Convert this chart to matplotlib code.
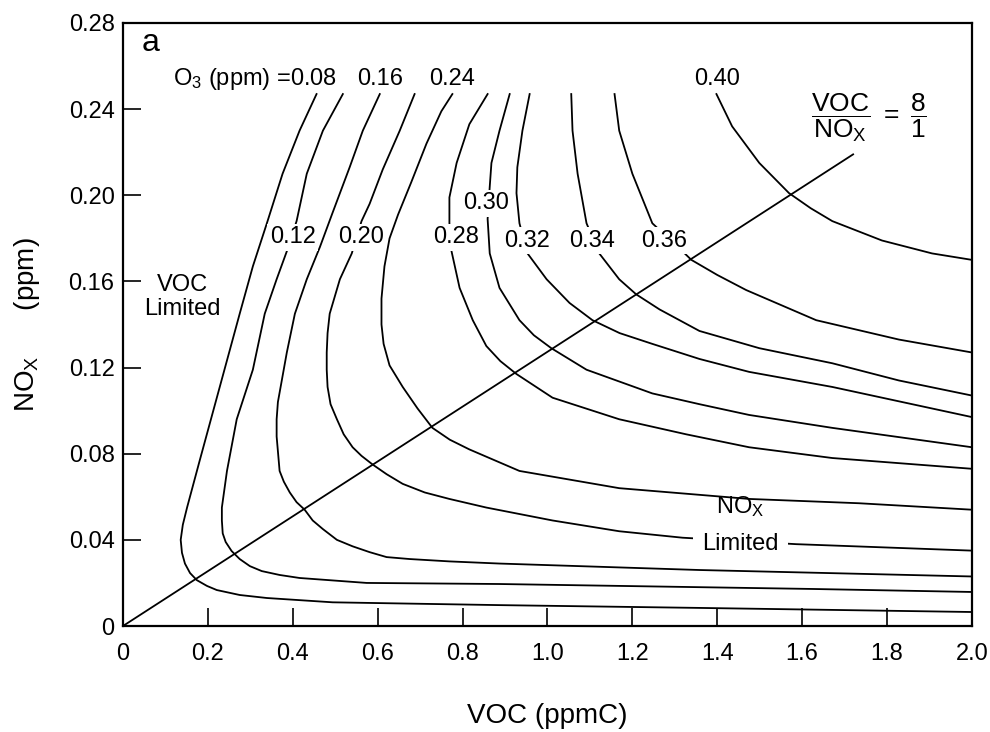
import matplotlib

matplotlib.use("Agg")
import matplotlib.pyplot as plt

plt.rcParams["font.family"] = ["Liberation Sans", "DejaVu Sans"]
plt.rcParams["mathtext.fontset"] = "custom"
plt.rcParams["mathtext.rm"] = "Liberation Sans"
plt.rcParams["mathtext.it"] = "Liberation Sans:italic"
plt.rcParams["mathtext.bf"] = "Liberation Sans:bold"

# O3 isopleths: VOC (ppmC) on x, NOx (ppm) on y
voc_008 = [0.456, 0.416, 0.376, 0.339, 0.306, 0.275, 0.228, 0.181, 0.151, 0.141,
           0.136, 0.139, 0.146, 0.158, 0.174, 0.198, 0.221, 0.275, 0.339, 0.494,
           0.887, 1.358, 2.0]
nox_008 = [0.247, 0.230, 0.210, 0.187, 0.167, 0.145, 0.111, 0.077, 0.055, 0.047,
           0.040, 0.034, 0.029, 0.0246, 0.0213, 0.0186, 0.0167, 0.0144, 0.013, 0.011,
           0.0097, 0.0084, 0.0065]

voc_012 = [0.518, 0.471, 0.433, 0.409, 0.386, 0.362, 0.334, 0.306, 0.268, 0.245,
           0.233, 0.233, 0.235, 0.242, 0.256, 0.275, 0.299, 0.327, 0.369, 0.416,
           0.574, 0.887, 1.624, 2.0]
nox_012 = [0.247, 0.230, 0.210, 0.188, 0.174, 0.161, 0.145, 0.119, 0.096, 0.072,
           0.055, 0.049, 0.043, 0.039, 0.0348, 0.0311, 0.0278, 0.0255, 0.0237, 0.0223,
           0.020, 0.0195, 0.0172, 0.0158]

voc_016 = [0.605, 0.565, 0.534, 0.494, 0.464, 0.433, 0.405, 0.386, 0.365, 0.362,
           0.362, 0.369, 0.379, 0.393, 0.409, 0.428, 0.447, 0.471, 0.504, 0.541,
           0.581, 0.621, 0.675, 0.769, 0.887, 1.358, 2.0]
nox_016 = [0.247, 0.230, 0.213, 0.192, 0.176, 0.161, 0.145, 0.127, 0.104, 0.096,
           0.088, 0.072, 0.067, 0.062, 0.0575, 0.054, 0.049, 0.045, 0.040, 0.037,
           0.0343, 0.032, 0.0311, 0.030, 0.029, 0.026, 0.023]

voc_020 = [0.687, 0.652, 0.612, 0.581, 0.562, 0.539, 0.511, 0.487, 0.482, 0.480,
           0.480, 0.482, 0.489, 0.504, 0.520, 0.541, 0.562, 0.588, 0.621, 0.659,
           0.711, 0.769, 0.856, 1.012, 1.169, 1.318, 1.586, 2.0]
nox_020 = [0.247, 0.230, 0.212, 0.196, 0.188, 0.173, 0.161, 0.145, 0.136, 0.127,
           0.119, 0.111, 0.103, 0.096, 0.089, 0.083, 0.079, 0.075, 0.0705, 0.066,
           0.062, 0.059, 0.055, 0.049, 0.044, 0.041, 0.038, 0.035]

voc_024 = [0.776, 0.750, 0.715, 0.679, 0.648, 0.628, 0.616, 0.609, 0.609, 0.614,
           0.628, 0.659, 0.694, 0.729, 0.770, 0.816, 0.934, 1.169, 1.475, 1.734, 2.0]
nox_024 = [0.247, 0.239, 0.224, 0.206, 0.191, 0.180, 0.167, 0.152, 0.140, 0.131,
           0.121, 0.111, 0.101, 0.092, 0.0865, 0.082, 0.072, 0.064, 0.059, 0.057, 0.054]

voc_028 = [0.859, 0.816, 0.786, 0.769, 0.769, 0.774, 0.793, 0.824, 0.856, 0.889,
           0.927, 1.012, 1.169, 1.327, 1.475, 1.671, 2.0]
nox_028 = [0.247, 0.233, 0.215, 0.199, 0.187, 0.174, 0.157, 0.142, 0.130, 0.123,
           0.117, 0.106, 0.096, 0.089, 0.083, 0.078, 0.073]

voc_030 = [0.911, 0.887, 0.868, 0.864, 0.859, 0.864, 0.887, 0.934, 0.968, 1.009,
           1.092, 1.247, 1.358, 1.475, 1.671, 2.0]
nox_030 = [0.247, 0.230, 0.215, 0.204, 0.189, 0.173, 0.157, 0.142, 0.135, 0.129,
           0.119, 0.108, 0.103, 0.098, 0.092, 0.083]

voc_032 = [0.958, 0.941, 0.929, 0.927, 0.934, 0.953, 0.998, 1.052, 1.106, 1.170,
           1.247, 1.358, 1.475, 1.671, 2.0]
nox_032 = [0.247, 0.230, 0.213, 0.201, 0.187, 0.173, 0.161, 0.150, 0.142, 0.136,
           0.131, 0.124, 0.118, 0.111, 0.097]

voc_034 = [1.056, 1.059, 1.071, 1.092, 1.122, 1.169, 1.209, 1.264, 1.358, 1.499,
           1.671, 1.828, 2.0]
nox_034 = [0.247, 0.230, 0.210, 0.187, 0.173, 0.161, 0.154, 0.147, 0.137, 0.129,
           0.122, 0.114, 0.107]

voc_036 = [1.158, 1.169, 1.200, 1.247, 1.318, 1.339, 1.400, 1.468, 1.633, 1.828, 2.0]
nox_036 = [0.247, 0.230, 0.210, 0.187, 0.174, 0.170, 0.163, 0.156, 0.142, 0.133, 0.127]

voc_040 = [1.398, 1.435, 1.499, 1.569, 1.620, 1.671, 1.788, 1.906, 2.0]
nox_040 = [0.247, 0.232, 0.215, 0.201, 0.194, 0.188, 0.179, 0.173, 0.170]

isopleths = [
    (voc_008, nox_008), (voc_012, nox_012), (voc_016, nox_016), (voc_020, nox_020),
    (voc_024, nox_024), (voc_028, nox_028), (voc_030, nox_030), (voc_032, nox_032),
    (voc_034, nox_034), (voc_036, nox_036), (voc_040, nox_040),
]

# VOC/NOx = 8/1 line
ratio_voc = [0.0, 1.72]
ratio_nox = [0.0, 0.219]

x_ticks = [0.0, 0.2, 0.4, 0.6, 0.8, 1.0, 1.2, 1.4, 1.6, 1.8, 2.0]
x_tick_labels = ["0", "0.2", "0.4", "0.6", "0.8", "1.0", "1.2", "1.4", "1.6", "1.8", "2.0"]
y_ticks = [0.0, 0.04, 0.08, 0.12, 0.16, 0.20, 0.24, 0.28]
y_tick_labels = ["0", "0.04", "0.08", "0.12", "0.16", "0.20", "0.24", "0.28"]

fig = plt.figure(figsize=(9.9, 7.32), dpi=100)
ax = fig.add_axes([0.1242, 0.1448, 0.8576, 0.8238])

for voc, nox in isopleths:
    ax.plot(voc, nox, color="black", linewidth=1.3, solid_joinstyle="round")
ax.plot(ratio_voc, ratio_nox, color="black", linewidth=1.3)

ax.set_xlim(0, 2.0)
ax.set_ylim(0, 0.28)
ax.set_xticks(x_ticks)
ax.set_xticklabels(x_tick_labels)
ax.set_yticks(y_ticks)
ax.set_yticklabels(y_tick_labels)
ax.tick_params(direction="in", length=13, width=1.2, labelsize=17)
ax.tick_params(axis="x", pad=12)
ax.tick_params(axis="y", pad=6)
for sp in ax.spines.values():
    sp.set_linewidth(1.6)

ax.set_xlabel("VOC (ppmC)", fontsize=20)
ax.xaxis.set_label_coords(0.5, -0.128)
ax.set_ylabel("NO$_\\mathrm{X}$      (ppm)", fontsize=20)
ax.yaxis.set_label_coords(-0.095, 0.5)

lbl = dict(fontsize=17, ha="center", va="center", zorder=5)
box = dict(boxstyle="square,pad=0.1", facecolor="white", edgecolor="none")

ax.text(0.045, 0.2705, "a", fontsize=23, ha="left", va="center")
ax.text(0.504, 0.254, "O$_3$ (ppm) =0.08", fontsize=17, ha="right", va="center")
ax.text(0.605, 0.254, "0.16", **lbl)
ax.text(0.776, 0.254, "0.24", **lbl)
ax.text(1.40, 0.254, "0.40", **lbl)

for x, y, s in [(0.40, 0.1805, "0.12"), (0.56, 0.1805, "0.20"), (0.784, 0.1805, "0.28"),
                (0.856, 0.1963, "0.30"), (0.951, 0.179, "0.32"), (1.106, 0.179, "0.34"),
                (1.275, 0.179, "0.36")]:
    ax.text(x, y, s, bbox=box, **lbl)

ax.text(0.139, 0.1527, "VOC\nLimited", fontsize=17, ha="center", va="center",
        linespacing=1.15)
ax.text(1.454, 0.0555, "NO$_\\mathrm{X}$", fontsize=17, ha="center", va="center")
ax.text(1.454, 0.038, "Limited", fontsize=17, ha="center", va="center", zorder=5,
        bbox=dict(boxstyle="square,pad=0.4", facecolor="white", edgecolor="none"))

ax.text(1.62, 0.2362, r"$\dfrac{\mathrm{VOC}}{\mathrm{NO_X}}\ =\ \dfrac{8}{1}$",
        fontsize=19, ha="left", va="center")

fig.savefig("out.png", dpi=100)
plt.close(fig)
